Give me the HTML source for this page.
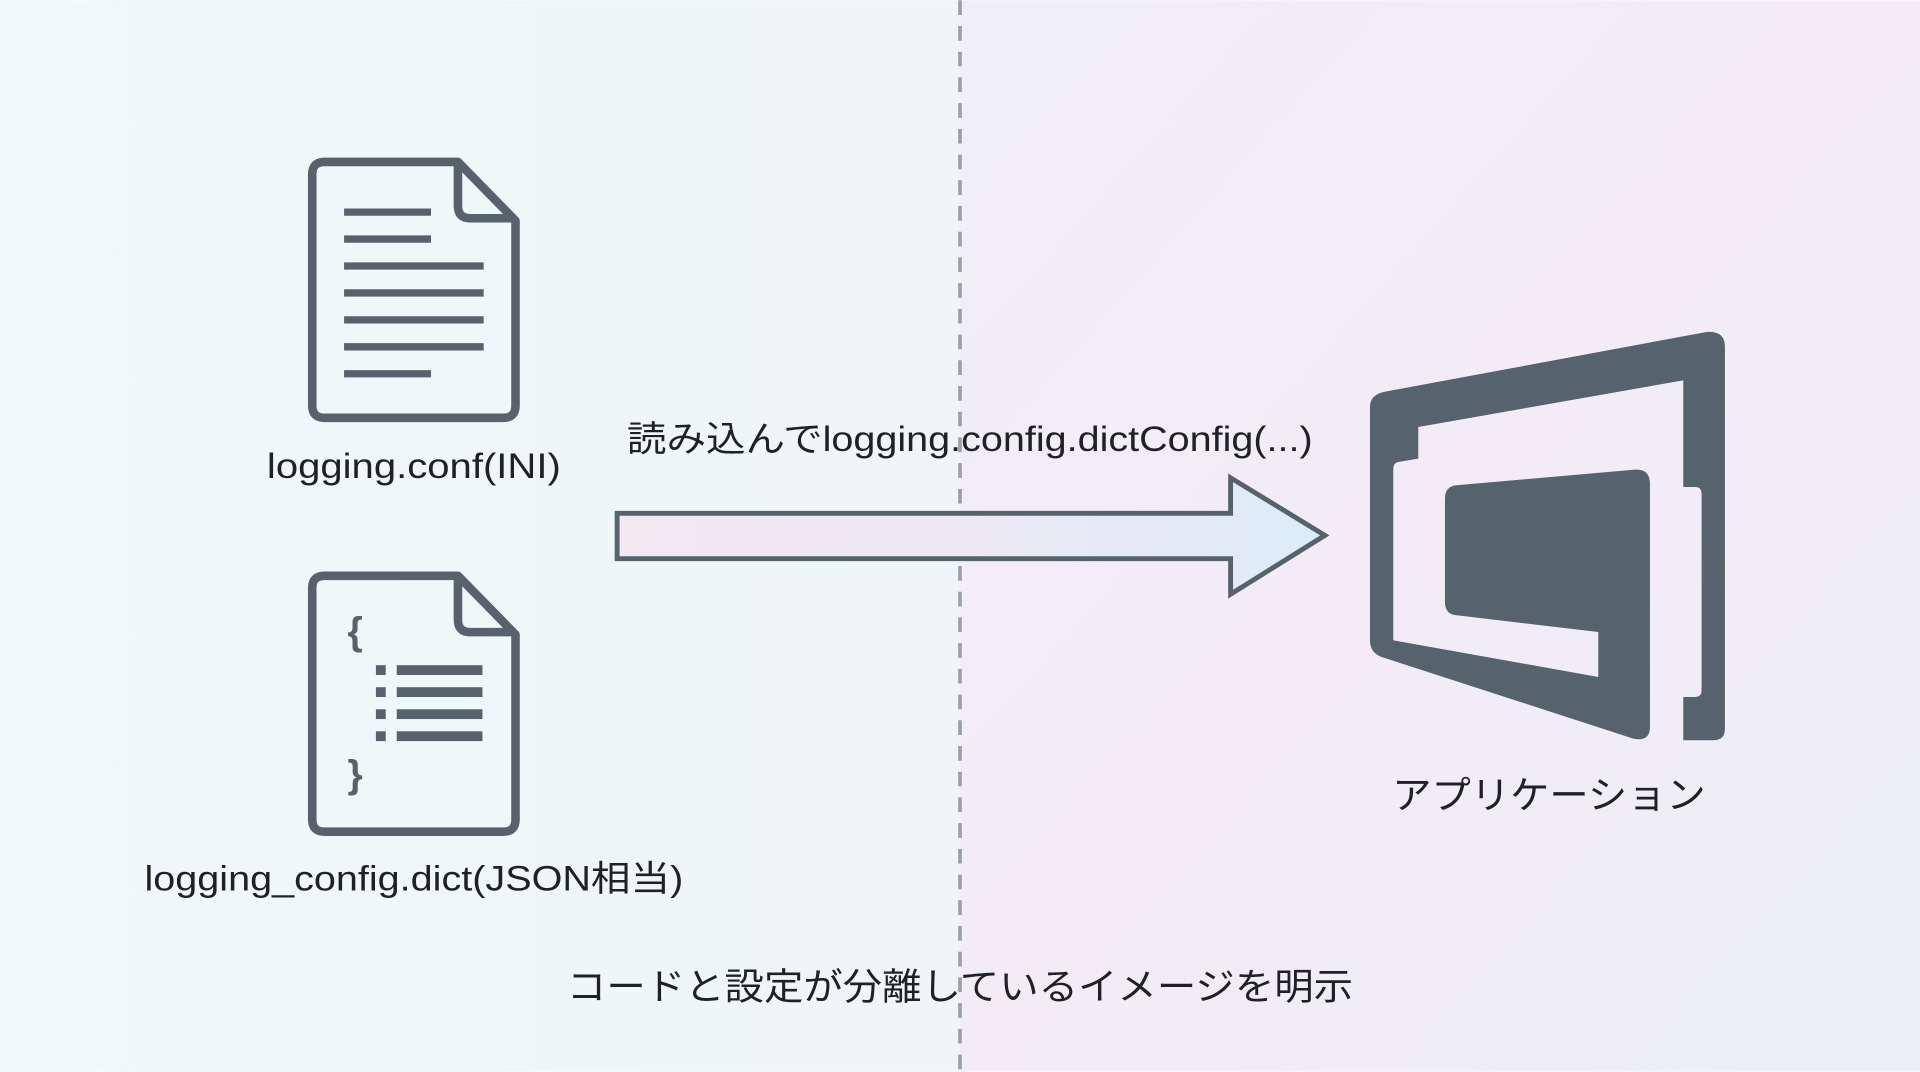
<!DOCTYPE html>
<html><head><meta charset="utf-8"><style>
html,body{margin:0;padding:0;width:1920px;height:1072px;overflow:hidden;}
svg{display:block}
text{font-family:"Liberation Sans","Noto Sans CJK JP",sans-serif;fill:#1e2226;}
</style></head><body>
<svg width="1920" height="1072" viewBox="0 0 1568 875" xmlns="http://www.w3.org/2000/svg">
<defs>
<linearGradient id="bgl" x1="0" y1="0" x2="1" y2="0"><stop offset="0" stop-color="#eef9f9"/><stop offset="1" stop-color="#eef6f8"/></linearGradient>
<linearGradient id="bgr" x1="0" y1="0" x2="1" y2="1"><stop offset="0" stop-color="#f0eef8"/><stop offset="0.5" stop-color="#f3ecf7"/><stop offset="1" stop-color="#ebeef6"/></linearGradient>
<linearGradient id="ar" x1="0" y1="0" x2="1" y2="0"><stop offset="0" stop-color="#f4e8f3"/><stop offset="0.5" stop-color="#ede9f5"/><stop offset="1" stop-color="#dcecf7"/></linearGradient>
</defs>
<rect x="0" y="0" width="784" height="875" fill="url(#bgl)"/>
<rect x="784" y="0" width="784" height="875" fill="url(#bgr)"/>
<line x1="784" y1="0" x2="784" y2="875" stroke="#9aa0a6" stroke-width="3" stroke-dasharray="12 9"/>

<!-- doc 1 -->
<g fill="none" stroke="#56626c" stroke-width="7" stroke-linejoin="round">
<path d="M265 132 H374 L421 180 V331 Q421 341 411 341 H265 Q255 341 255 331 V142 Q255 132 265 132 Z"/>
<path d="M374 132 V168 Q374 178 384 178 H421"/>
</g>
<g stroke="#56626c" stroke-width="6">
<line x1="281" y1="173" x2="352" y2="173"/><line x1="281" y1="195" x2="352" y2="195"/>
<line x1="281" y1="217" x2="395" y2="217"/><line x1="281" y1="239" x2="395" y2="239"/>
<line x1="281" y1="261" x2="395" y2="261"/><line x1="281" y1="283" x2="395" y2="283"/>
<line x1="281" y1="305" x2="352" y2="305"/>
</g>
<text x="338" y="390" font-size="29" text-anchor="middle" textLength="240" lengthAdjust="spacingAndGlyphs">logging.conf(INI)</text>

<!-- doc 2 -->
<g fill="none" stroke="#56626c" stroke-width="7" stroke-linejoin="round">
<path d="M265 470 H374 L421 518 V669 Q421 679 411 679 H265 Q255 679 255 669 V480 Q255 470 265 470 Z"/>
<path d="M374 470 V506 Q374 516 384 516 H421"/>
</g>
<text x="290" y="526" font-size="32" font-weight="bold" text-anchor="middle" style="fill:#56626c">{</text>
<text x="290" y="643" font-size="32" font-weight="bold" text-anchor="middle" style="fill:#56626c">}</text>
<g fill="#56626c">
<rect x="307" y="543" width="8" height="8"/><rect x="307" y="561" width="8" height="8"/>
<rect x="307" y="579" width="8" height="8"/><rect x="307" y="597" width="8" height="8"/>
<rect x="324" y="543" width="70" height="8"/><rect x="324" y="561" width="70" height="8"/>
<rect x="324" y="579" width="70" height="8"/><rect x="324" y="597" width="70" height="8"/>
</g>
<text x="338" y="727" font-size="29" text-anchor="middle" textLength="440" lengthAdjust="spacingAndGlyphs">logging_config.dict(JSON相当)</text>

<!-- arrow -->
<text x="512" y="368" font-size="29" textLength="560" lengthAdjust="spacingAndGlyphs">読み込んでlogging.config.dictConfig(...)</text>
<path d="M504 419 H1005 V390 L1082 437 L1005 485 V456 H504 Z" fill="url(#ar)" stroke="#56626c" stroke-width="4" stroke-linejoin="miter"/>

<!-- app icon -->
<g transform="translate(1094.3,253.2) scale(0.2722)">
<path fill="#56626c" d="M90 290 Q90 255 130 245 L1100 65 Q1155 60 1155 110 V1255 Q1155 1290 1120 1290 H1030 V1160 H1065 Q1085 1160 1085 1140 V550 Q1085 530 1065 530 H1030 V210 L235 350 V445 L175 455 Q160 458 160 475 V990 L775 1100 V965 L350 915 Q315 912 315 875 V565 Q315 528 350 525 L885 478 Q930 475 930 520 V1250 Q930 1295 880 1285 L125 1040 Q90 1028 90 990 Z"/>
</g>
<text x="1265" y="660" font-size="31" text-anchor="middle" textLength="256" lengthAdjust="spacingAndGlyphs">アプリケーション</text>

<text x="784" y="816" font-size="30" text-anchor="middle" textLength="642" lengthAdjust="spacingAndGlyphs">コードと設定が分離しているイメージを明示</text>
</svg>
</body></html>
